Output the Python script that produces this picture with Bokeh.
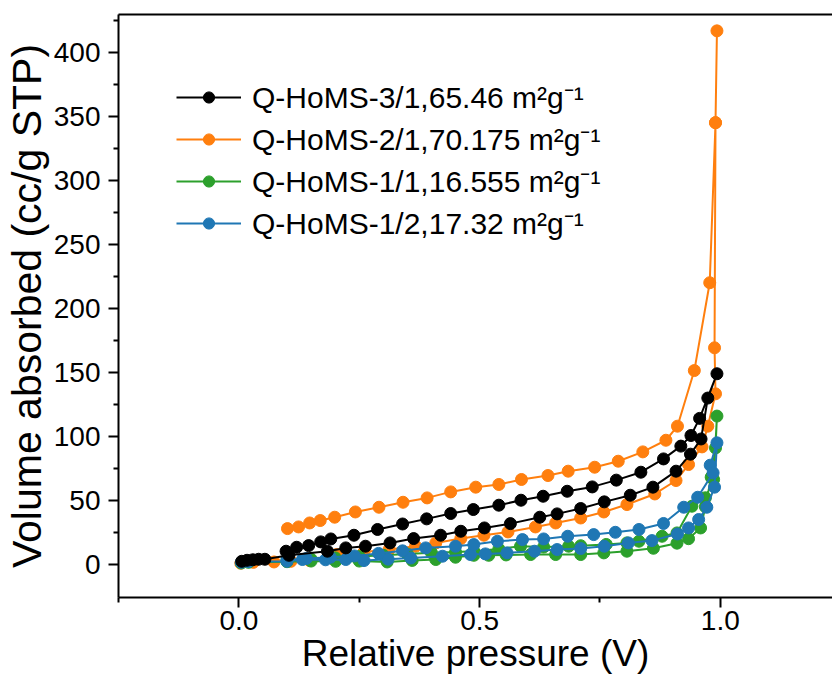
from bokeh.plotting import figure
from bokeh.models import Range1d, LinearAxis, FixedTicker, Legend, LegendItem, NumeralTickFormatter
from bokeh.embed import file_html
from bokeh.resources import INLINE

# ---- data (adsorption branch followed by desorption branch) ----
labels = ["Q-HoMS-3/1,65.46 m\u00b2g\u207b\u00b9",
          "Q-HoMS-2/1,70.175 m\u00b2g\u207b\u00b9",
          "Q-HoMS-1/1,16.555 m\u00b2g\u207b\u00b9",
          "Q-HoMS-1/2,17.32 m\u00b2g\u207b\u00b9"]

black_x = [0.006, 0.017, 0.029, 0.041, 0.054, 0.104, 0.184, 0.222, 0.263, 0.314, 0.363, 0.419, 0.461,
           0.510, 0.564, 0.625, 0.661, 0.710, 0.759, 0.813, 0.860, 0.908, 0.938, 0.960, 0.974, 0.993,
           0.957, 0.939, 0.918, 0.882, 0.835, 0.784, 0.734, 0.682, 0.632, 0.586, 0.540, 0.487, 0.440,
           0.390, 0.340, 0.288, 0.239, 0.191, 0.170, 0.145, 0.120, 0.098]
black_y = [2.3, 3.1, 3.5, 3.9, 3.9, 7.0, 10.2, 12.8, 14.1, 16.7, 20.1, 22.7, 25.8,
           28.4, 31.8, 36.8, 39.4, 43.6, 48.8, 54.0, 60.3, 72.8, 86.1, 98.0, 130.0, 149.0,
           114.1, 100.7, 92.4, 82.4, 72.0, 65.8, 60.5, 57.1, 53.2, 50.1, 46.2, 42.8, 39.7,
           35.5, 31.5, 27.2, 22.7, 19.8, 17.5, 14.6, 13.3, 10.2]

orange_x = [0.004, 0.030, 0.073, 0.108, 0.147, 0.203, 0.260, 0.312, 0.367, 0.409, 0.461, 0.509, 0.559,
            0.616, 0.658, 0.710, 0.758, 0.806, 0.864, 0.908, 0.934, 0.962, 0.974, 0.990, 0.988, 0.990,
            0.993,
            0.990, 0.978, 0.946, 0.911, 0.887, 0.839, 0.788, 0.739, 0.684, 0.642, 0.587, 0.540, 0.492,
            0.440, 0.391, 0.341, 0.291, 0.242, 0.199, 0.169, 0.147, 0.124, 0.101]
orange_y = [0.8, 1.5, 1.8, 2.3, 2.9, 7.6, 9.6, 11.5, 14.1, 16.7, 20.1, 22.7, 25.3,
            29.2, 32.3, 36.2, 40.9, 46.7, 55.0, 65.5, 78.0, 91.8, 108.0, 133.3, 169.3, 345.4,
            417.2,
            345.4, 220.2, 151.5, 108.0, 97.0, 87.9, 80.6, 75.9, 72.8, 69.4, 66.3, 62.4, 60.3,
            56.6, 51.9, 48.5, 44.6, 40.9, 36.8, 34.2, 32.3, 29.2, 27.9]

green_x = [0.005, 0.020, 0.100, 0.150, 0.201, 0.250, 0.308, 0.360, 0.409, 0.450, 0.488, 0.519, 0.555,
           0.606, 0.658, 0.710, 0.758, 0.806, 0.861, 0.910, 0.934, 0.959, 0.969, 0.981, 0.990, 0.993,
           0.986, 0.969, 0.941, 0.910, 0.879, 0.831, 0.806, 0.763, 0.710, 0.685, 0.633, 0.585, 0.540,
           0.488, 0.450, 0.400, 0.350, 0.300, 0.250, 0.200, 0.150, 0.100]
green_y = [1.0, 1.5, 2.0, 2.5, 2.3, 2.5, 1.8, 3.0, 3.7, 5.5, 7.0, 7.0, 7.3,
           7.6, 7.6, 7.6, 8.9, 10.2, 12.5, 16.5, 20.0, 28.4, 45.0, 68.1, 91.0, 115.9,
           66.3, 52.0, 45.4, 24.5, 21.9, 18.0, 16.7, 15.5, 14.5, 14.1, 13.5, 14.1, 12.0,
           10.2, 9.5, 9.0, 8.0, 7.0, 6.0, 5.0, 4.0, 3.0]

blue_x = [0.005, 0.020, 0.100, 0.132, 0.180, 0.222, 0.260, 0.310, 0.357, 0.423, 0.481, 0.512, 0.557,
          0.614, 0.661, 0.710, 0.759, 0.809, 0.858, 0.911, 0.934, 0.955, 0.972, 0.988, 0.993,
          0.979, 0.985, 0.953, 0.924, 0.882, 0.831, 0.782, 0.737, 0.683, 0.633, 0.589, 0.537, 0.488,
          0.450, 0.388, 0.340, 0.290, 0.240, 0.190, 0.140, 0.100]
blue_y = [1.5, 2.0, 2.3, 3.7, 3.5, 3.7, 2.9, 4.0, 4.9, 6.3, 7.6, 8.1, 8.9,
          10.2, 11.5, 12.3, 14.1, 16.7, 18.5, 23.7, 28.4, 35.0, 44.6, 60.3, 95.0,
          77.5, 71.5, 52.4, 44.6, 31.9, 27.2, 25.0, 23.2, 21.9, 19.8, 19.3, 18.0, 15.4,
          14.1, 12.8, 10.5, 8.5, 6.5, 5.5, 4.5, 3.5]

x_ticks = [0.0, 0.5, 1.0]
x_minor = [-0.25, 0.25, 0.75, 1.25]
y_ticks = [0, 50, 100, 150, 200, 250, 300, 350, 400]
y_minor = [25, 75, 125, 175, 225, 275, 325, 375, 425]

colors = {"black": "#000000", "orange": "#ff7f0e", "green": "#2ca02c", "blue": "#1f77b4"}

FONT = "Liberation Sans"

p = figure(width=832, height=682, output_backend="svg", toolbar_location=None,
           x_range=Range1d(-0.25, 1.233), y_range=Range1d(-26, 430),
           min_border_left=118, min_border_right=0, min_border_top=14, min_border_bottom=85)
p.outline_line_color = None
p.grid.visible = False
p.background_fill_color = "white"

# axes
for ax in (p.xaxis[0], p.yaxis[0]):
    ax.axis_line_width = 2
    ax.major_tick_line_width = 2
    ax.minor_tick_line_width = 2
    ax.major_tick_in = 0
    ax.minor_tick_in = 0
    ax.major_tick_out = 10
    ax.minor_tick_out = 5
    ax.major_label_text_font = FONT
    ax.major_label_text_font_size = "28px"
    ax.major_label_text_color = "black"
    ax.axis_label_text_font = FONT
    ax.axis_label_text_font_style = "normal"
    ax.axis_label_text_color = "black"

p.xaxis.ticker = FixedTicker(ticks=x_ticks, minor_ticks=x_minor)
p.xaxis.formatter = NumeralTickFormatter(format="0.0")
p.xaxis.axis_label = "Relative pressure (V)"
p.xaxis.axis_label_text_font_size = "37px"
p.xaxis.major_label_standoff = 3
p.xaxis.axis_label_standoff = 0

p.yaxis.ticker = FixedTicker(ticks=y_ticks, minor_ticks=y_minor)
p.yaxis.axis_label = "Volume absorbed (cc/g STP)"
p.yaxis.axis_label_text_font_size = "41px"
p.yaxis.major_label_standoff = 8
p.yaxis.axis_label_standoff = 1

top = LinearAxis(ticker=FixedTicker(ticks=[]), axis_line_width=2,
                 major_tick_out=0, minor_tick_out=0, major_tick_in=0, minor_tick_in=0,
                 major_label_text_font_size="0px")
p.add_layout(top, "above")

series = {
    "black": (black_x, black_y, labels[0]),
    "orange": (orange_x, orange_y, labels[1]),
    "green": (green_x, green_y, labels[2]),
    "blue": (blue_x, blue_y, labels[3]),
}

rends = {}
for name in ["orange", "green", "blue", "black"]:
    xs, ys, lab = series[name]
    c = colors[name]
    rl = p.line(xs, ys, line_color=c, line_width=2)
    rs = p.scatter(xs, ys, size=12, fill_color=c, line_color=c)
    rends[name] = (rl, rs)

items = [LegendItem(label=series[n][2], renderers=list(rends[n])) for n in ["black", "orange", "green", "blue"]]
legend = Legend(items=items, location=(58, 354), border_line_color=None, background_fill_alpha=0,
                label_text_font=FONT, label_text_font_size="30px", label_text_color="black",
                glyph_width=65, glyph_height=28, label_height=33, spacing=1, padding=10,
                label_standoff=11, margin=0)
p.add_layout(legend)

open("out.html", "w").write(file_html(p, INLINE))
